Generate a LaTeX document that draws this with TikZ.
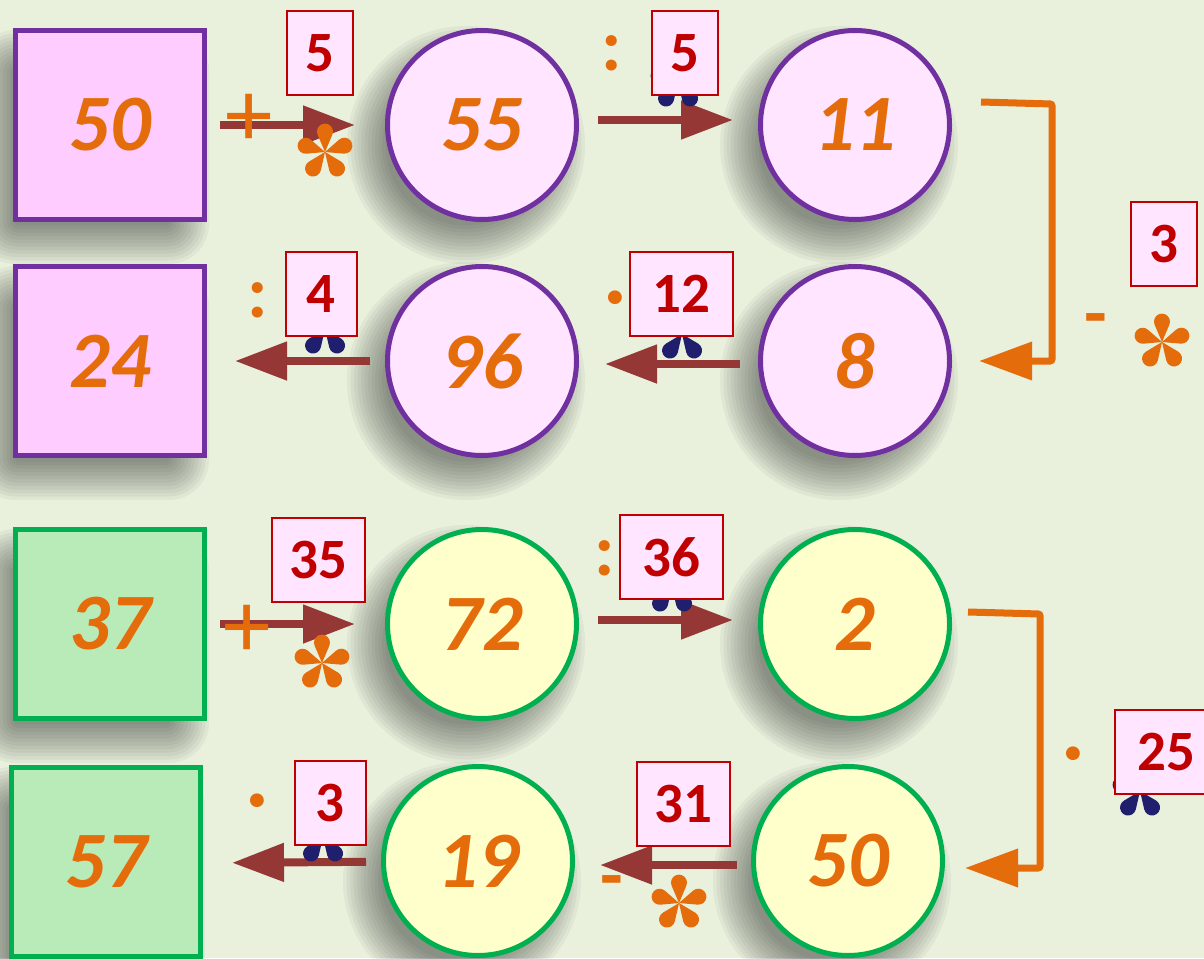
\documentclass[tikz,border=0pt]{standalone}
\usepackage{fontspec}
\setmainfont{Carlito}
\usetikzlibrary{arrows.meta,backgrounds}

\definecolor{bgpaper}{HTML}{E9F0DC}
\definecolor{pinkfill}{HTML}{FFE5FF}
\definecolor{squarepink}{HTML}{FFCCFF}
\definecolor{yellowfill}{HTML}{FFFFCC}
\definecolor{greenfill}{HTML}{B8EBB8}
\definecolor{purpleline}{HTML}{7030A0}
\definecolor{greenline}{HTML}{00B050}
\definecolor{opor}{HTML}{E46C0A}
\definecolor{arrowred}{HTML}{953735}
\definecolor{tagred}{HTML}{C00000}
\definecolor{navy}{HTML}{1F1F6E}

\newcommand\cellfont{\fontsize{80}{82}\selectfont\bfseries\itshape}
\newcommand\tagfont{\fontsize{57}{59}\selectfont\bfseries}
\newcommand\plusfont{\fontsize{95}{97}\selectfont}
\newcommand\markfont{\fontsize{74}{76}\selectfont\bfseries}

\tikzset{
  petals/.pic={
    \foreach \a in {90,162,234,306,18}
      \fill[rotate=\a] (0,0) -- (17.2,7.3) arc[start angle=113.5, end angle=-113.5, radius=8] -- cycle;
  },
  sqshade/.pic={
    \foreach \k in {0,...,11}{
      \pgfmathsetmacro\s{117-3.5*\k}
      \pgfmathsetmacro\rc{40-3.2*\k}
      \fill[black, opacity=0.04, rounded corners=\rc pt] (-\s,-\s) rectangle (\s,\s);
    }
  },
  rdshade/.pic={
    \foreach \k in {0,...,11}{
      \pgfmathsetmacro\s{119-3.5*\k}
      \fill[black, opacity=0.04] (0,0) circle[radius=\s];
    }
  }
}

\begin{document}
\begin{tikzpicture}[
    x=1pt, y=-1pt,
    every node/.style={inner sep=0pt},
    cell/.style={
        line width=5pt,
        minimum size=189pt,
        text=opor,
        font=\cellfont,
    },
    sqcell/.style={cell, rectangle},
    rdcell/.style={cell, circle},
    tag/.style={draw=tagred, line width=2pt, fill=pinkfill, text=tagred, font=\tagfont, minimum height=84pt},
    flow/.style={draw=arrowred, line width=8pt, -{Triangle[length=52pt, width=37pt]}},
    turn/.style={draw=opor, line width=7pt, rounded corners=2pt, -{Triangle[length=53pt, width=37pt]}},
    sign/.style={text=opor},
]

\useasboundingbox (0,0) rectangle (1204,958);

% Rows and columns
\def\rowA{125}
\def\rowB{361}
\def\rowC{624}
\def\rowD{861}
\def\colA{110}
\def\colB{482}
\def\colC{855}

% --- First chain ---
\node[sqcell, draw=purpleline, fill=squarepink] (sqA) at (\colA, \rowA) {50};
\node[rdcell, draw=purpleline, fill=pinkfill] (c55) at (\colB, \rowA) {55};
\node[rdcell, draw=purpleline, fill=pinkfill] (c11) at (\colC, \rowA) {11};
\node[rdcell, draw=purpleline, fill=pinkfill] (c8) at (\colC, \rowB) {8};
\node[rdcell, draw=purpleline, fill=pinkfill] (c96) at (\colB, \rowB) {96};
\node[sqcell, draw=purpleline, fill=squarepink] (sqB) at (\colA, \rowB) {24};

% --- Second chain ---
\node[sqcell, draw=greenline, fill=greenfill] (sqC) at (\colA, \rowC) {37};
\node[rdcell, draw=greenline, fill=yellowfill] (c72) at (\colB, \rowC) {72};
\node[rdcell, draw=greenline, fill=yellowfill] (c2) at (\colC, \rowC) {2};
\node[rdcell, draw=greenline, fill=yellowfill] (c50) at (\colC-7, \rowD) {50};
\node[rdcell, draw=greenline, fill=yellowfill] (c19) at (\colB-4, \rowD) {19};
\node[sqcell, draw=greenline, fill=greenfill] (sqD) at (\colA-4, \rowD+1) {57};

% --- Paper and soft shadows ---
\begin{scope}[on background layer]
  \fill[bgpaper] (0,0) rectangle (1204,958);
  \foreach \n in {sqA,sqB,sqC,sqD}
    \pic at ([shift={(-18,22)}]\n.center) {sqshade};
  \foreach \n in {c55,c11,c8,c96,c72,c2,c50,c19}
    \pic at ([shift={(-16,20)}]\n.center) {rdshade};
\end{scope}

% --- Arrows ---
\draw[flow, shorten <=13pt, shorten >=30pt] (sqA) -- (c55);
\draw[flow, shorten <=19pt, shorten >=25pt] ([yshift=5pt]c55.east) -- ([yshift=5pt]c11.west);
\draw[turn] ([xshift=29pt, yshift=23pt]c11.east) -- ++(71,2) |- ([xshift=27pt]c8.east);
\draw[flow, shorten <=18pt, shorten >=26pt] ([yshift=-3pt]c8.west) -- ([yshift=-3pt]c96.east);
\draw[flow, shorten <=15pt, shorten >=28pt] (c96) -- (sqB);

\draw[flow, shorten <=13pt, shorten >=30pt] (sqC) -- (c72);
\draw[flow, shorten <=19pt, shorten >=25pt] ([yshift=4pt]c72.east) -- ([yshift=4pt]c2.west);
\draw[turn] ([xshift=16pt, yshift=12pt]c2.east) -- ++(72,2) |- ([xshift=20pt, yshift=-7pt]c50.east);
\draw[flow, shorten <=14pt, shorten >=25pt] ([yshift=-4pt]c50.west) -- ([yshift=-4pt]c19.east);
\draw[flow, shorten <=15pt, shorten >=29pt] (c19) -- ([yshift=-1pt]sqD.east);

% --- Operation signs ---
\node[sign, font=\plusfont] (pA) at (249, 120) {+};
\pic[fill=opor] at (325, 152) {petals};
\node[sign, font=\markfont] (dB) at (612, 53) {:};
\pic[fill=navy] at (678, 82) {petals};
\node[sign, font=\markfont] (mC) at (1096, 326) {-};
\pic[fill=opor] at (1162, 342) {petals};
\node[sign, font=\markfont] (dD) at (258, 300) {:};
\pic[fill=navy] at (325, 329) {petals};
\node[sign, font=\markfont] (tE) at (615, 305) {·};
\pic[fill=navy] at (682, 334) {petals};

\node[sign, font=\plusfont] (pF) at (247, 631) {+};
\pic[fill=opor] at (322, 663) {petals};
\node[sign, font=\markfont] (dG) at (605, 558) {:};
\pic[fill=navy] at (672, 587) {petals};
\node[sign, font=\markfont] (tH) at (1073, 761) {·};
\pic[fill=navy] at (1140, 791) {petals};
\node[sign, font=\markfont] (tI) at (257, 808) {·};
\pic[fill=navy] at (323, 837) {petals};
\node[sign, font=\markfont] (mJ) at (612, 888) {-};
\pic[fill=opor] at (679, 903) {petals};

% --- Number tags ---
\node[tag, minimum width=66pt] (tagA) at (320, 53) {5};
\node[tag, minimum width=66pt] (tagB) at (685, 53) {5};
\node[tag, minimum width=66pt] (tagC) at (1164, 244) {3};
\node[tag, minimum width=71pt] (tagD) at (321, 294) {4};
\node[tag, minimum width=103pt] (tagE) at (681, 294) {12};
\node[tag, minimum width=93pt] (tagF) at (318, 560) {35};
\node[tag, minimum width=103pt] (tagG) at (671, 557) {36};
\node[tag, minimum width=103pt] (tagH) at (1166, 752) {25};
\node[tag, minimum width=71pt] (tagI) at (330, 803) {3};
\node[tag, minimum width=93pt] (tagJ) at (683, 804) {31};

\end{tikzpicture}
\end{document}
